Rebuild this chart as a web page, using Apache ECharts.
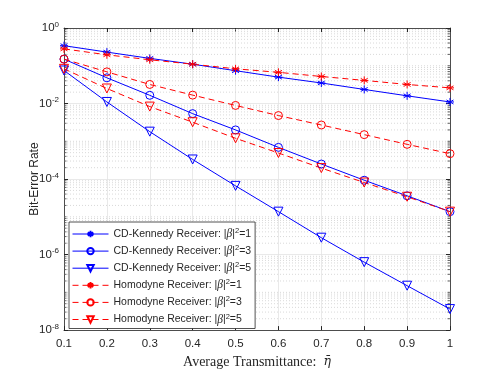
<!DOCTYPE html>
<html>
<head>
<meta charset="utf-8">
<script src="https://cdn.jsdelivr.net/npm/echarts@6/dist/echarts.min.js"></script>
<style>
  html, body { margin: 0; padding: 0; background: #fff; }
  #main { width: 498px; height: 374px; }
</style>
</head>
<body>
<div id="main"></div>
<script>
// x 轴: 平均透射率
var eta = [0.1, 0.2, 0.3, 0.4, 0.5, 0.6, 0.7, 0.8, 0.9, 1.0];

// CD-Kennedy 接收机
var kennedy1 = [0.34, 0.23, 0.157, 0.11, 0.074, 0.050, 0.035, 0.0236, 0.016, 0.011];
var kennedy3 = [0.15, 0.048, 0.0165, 0.0054, 0.0020, 6.9e-4, 2.5e-4, 9.3e-5, 3.6e-5, 1.37e-5];
var kennedy5 = [0.075, 0.011, 0.0018, 3.3e-4, 6.6e-5, 1.37e-5, 2.8e-6, 6.3e-7, 1.5e-7, 3.6e-8];

// 零差接收机
var homodyne1 = [0.28, 0.195, 0.144, 0.11, 0.083, 0.067, 0.052, 0.041, 0.032, 0.026];
var homodyne3 = [0.15, 0.069, 0.032, 0.0167, 0.0089, 0.0048, 0.0027, 0.0015, 8.3e-4, 4.7e-4];
var homodyne5 = [0.083, 0.025, 0.0083, 0.0032, 0.0012, 4.9e-4, 1.95e-4, 8.1e-5, 3.4e-5, 1.37e-5];

var BLUE = '#0000ff';
var RED = '#ff0000';
var STAR = 'path://M0,-5L0,5M-4.33,-2.5L4.33,2.5M-4.33,2.5L4.33,-2.5M-5,0L5,0';
var TRI = 'path://M-5,-4L5,-4L0,5Z';

function pairs(ys) {
  return eta.map(function (x, i) { return [x, ys[i]]; });
}

// 次网格线 (对数坐标 k × 10^e)
var minorVals = [];
for (var e = -8; e < 0; e++) {
  for (var k = 1; k <= 9; k++) {
    if (k === 1 && e % 2 === 0) continue;
    minorVals.push([0.1, k * Math.pow(10, e)]);
  }
}

function mkSeries(name, ys, color, dashed, symbol) {
  return {
    name: name,
    type: 'line',
    data: pairs(ys),
    symbol: symbol,
    symbolSize: symbol === TRI ? 9 : 8,
    showAllSymbol: true,
    lineStyle: { color: color, width: 1, type: dashed ? [6, 4] : 'solid' },
    itemStyle: { color: 'rgba(0,0,0,0)', borderColor: color, borderWidth: 1 },
    emphasis: { disabled: true },
    z: 3
  };
}

var names = [
  'CD-Kennedy Receiver: |β|²=1',
  'CD-Kennedy Receiver: |β|²=3',
  'CD-Kennedy Receiver: |β|²=5',
  'Homodyne Receiver: |β|²=1',
  'Homodyne Receiver: |β|²=3',
  'Homodyne Receiver: |β|²=5'
];

var series = [
  mkSeries(names[0], kennedy1, BLUE, false, STAR),
  mkSeries(names[1], kennedy3, BLUE, false, 'circle'),
  mkSeries(names[2], kennedy5, BLUE, false, TRI),
  mkSeries(names[3], homodyne1, RED, true, STAR),
  mkSeries(names[4], homodyne3, RED, true, 'circle'),
  mkSeries(names[5], homodyne5, RED, true, TRI)
];

var AXC = '#262626';

// 次网格线 + 次刻度, 用 custom series 画
series.push({
  type: 'custom',
  silent: true,
  z: 1,
  data: minorVals,
  renderItem: function (params, api) {
    var v = api.value(1);
    var p1 = api.coord([0.1, v]);
    var p2 = api.coord([1, v]);
    return {
      type: 'group',
      children: [{
        type: 'line',
        shape: { x1: p1[0], y1: p1[1], x2: p2[0], y2: p2[1] },
        style: { stroke: '#c8c8c8', lineWidth: 0.7, lineDash: [1, 2] }
      }, {
        type: 'line',
        shape: { x1: p1[0], y1: p1[1], x2: p1[0] + 2.5, y2: p1[1] },
        style: { stroke: AXC, lineWidth: 0.7 }
      }, {
        type: 'line',
        shape: { x1: p2[0] - 2.5, y1: p2[1], x2: p2[0], y2: p2[1] },
        style: { stroke: AXC, lineWidth: 0.7 }
      }]
    };
  }
});

var myChart = echarts.init(document.getElementById('main'));
var FONT = '"Liberation Sans", Arial, sans-serif';
var SERIF = '"Liberation Serif", "DejaVu Serif", serif';

var option = {
  animation: false,
  grid: { left: 64, top: 28, right: 48, bottom: 41, containLabel: false },
  legend: {
    data: names,
    orient: 'vertical',
    left: 69,
    top: 222,
    itemWidth: 36,
    itemHeight: 8,
    itemGap: 4.1,
    padding: [5, 4, 3, 3],
    backgroundColor: '#fff',
    borderColor: AXC,
    borderWidth: 0.8,
    borderRadius: 0,
    selectedMode: false,
    lineStyle: { width: 1 },
    formatter: function (n) {
      var m = n.match(/^(.*)\|β\|²=(\d)$/);
      return '{t|' + m[1] + '|}{b|β}{t||}{s|2}{t|=' + m[2] + '}';
    },
    textStyle: {
      color: AXC,
      fontFamily: FONT,
      fontSize: 10.5,
      rich: {
        t: { fontFamily: FONT, fontSize: 10.5, color: AXC, lineHeight: 14 },
        b: { fontFamily: SERIF, fontStyle: 'italic', fontSize: 11.5, color: AXC, lineHeight: 14 },
        s: { fontFamily: FONT, fontSize: 7.5, color: AXC, verticalAlign: 'top', lineHeight: 10 }
      }
    }
  },
  xAxis: [{
    type: 'value',
    min: 0.1,
    max: 1,
    interval: 0.1,
    name: '{t|Average Transmittance:  }{e|η̄}',
    nameLocation: 'middle',
    nameGap: 24,
    nameTextStyle: {
      fontFamily: SERIF, fontSize: 14, color: AXC,
      rich: {
        t: { fontFamily: SERIF, fontSize: 14, color: AXC },
        e: { fontFamily: '"DejaVu Serif", serif', fontStyle: 'italic', fontSize: 12.5, color: AXC }
      }
    },
    axisLine: { lineStyle: { color: AXC, width: 0.8 } },
    axisTick: { inside: true, length: 4, lineStyle: { color: AXC } },
    axisLabel: {
      color: AXC, fontFamily: FONT, fontSize: 11.5, margin: 8,
      formatter: function (v) { return String(+v.toFixed(1)); }
    },
    splitLine: { show: true, lineStyle: { color: '#e3e3e3', width: 0.8 } }
  }, {
    type: 'value',
    position: 'top',
    min: 0.1,
    max: 1,
    interval: 0.1,
    axisLine: { show: true, lineStyle: { color: AXC, width: 0.8 } },
    axisTick: { show: true, inside: true, length: 4, lineStyle: { color: AXC } },
    axisLabel: { show: false },
    splitLine: { show: false }
  }],
  yAxis: [{
    type: 'log',
    logBase: 10,
    min: 1e-8,
    max: 1,
    interval: 2,
    name: 'Bit-Error Rate',
    nameLocation: 'middle',
    nameGap: 23,
    nameMoveOverlap: false,
    nameTextStyle: { fontFamily: FONT, fontSize: 12, color: AXC },
    axisLine: { show: true, lineStyle: { color: AXC, width: 0.8 } },
    axisTick: { inside: true, length: 4, lineStyle: { color: AXC } },
    axisLabel: {
      color: AXC, fontFamily: FONT, fontSize: 11.5, margin: 5,
      formatter: function (v) {
        var p = Math.round(Math.log10(v));
        return '{b|10}{s|' + p + '}';
      },
      rich: {
        b: { fontFamily: FONT, fontSize: 11.5, color: AXC },
        s: { fontFamily: FONT, fontSize: 8, color: AXC, verticalAlign: 'top', padding: [0, 0, 7, 0] }
      }
    },
    splitLine: { show: true, lineStyle: { color: '#e3e3e3', width: 0.8 } }
  }, {
    type: 'log',
    logBase: 10,
    min: 1e-8,
    max: 1,
    interval: 2,
    position: 'right',
    axisLine: { show: true, lineStyle: { color: AXC, width: 0.8 } },
    axisTick: { show: true, inside: true, length: 4, lineStyle: { color: AXC } },
    axisLabel: { show: false },
    splitLine: { show: false }
  }],
  series: series
};

myChart.setOption(option);
</script>
</body>
</html>
